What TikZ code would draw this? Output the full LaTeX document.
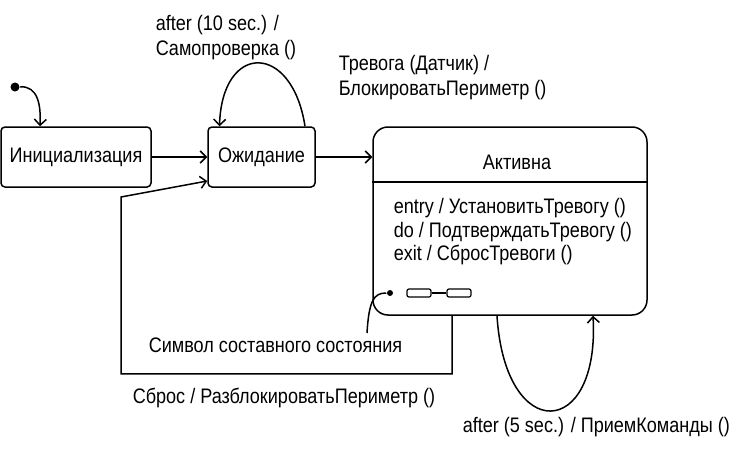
\documentclass[tikz,border=0pt]{standalone}
\usepackage{fontspec}
\setmainfont{Liberation Sans}[FakeStretch=0.86]
\usetikzlibrary{arrows.meta, positioning, calc}

\begin{document}
\begin{tikzpicture}[
  x=1pt, y=-1pt, line width=1.5pt,
  font=\fontsize{21}{25}\selectfont,
  state/.style={draw, rounded corners=4pt, minimum height=60pt, inner sep=0pt},
  flow/.style={-{Straight Barb[length=6pt, width=12pt]}},
  lbl/.style={inner sep=0pt, align=left, anchor=west},
  dot/.style={circle, fill, inner sep=0pt, minimum size=7pt},
  cmp/.style={draw, rounded corners=2pt, line width=1.2pt, inner sep=0pt,
              minimum width=24pt, minimum height=8pt}
]
  \useasboundingbox (0,0) rectangle (756,455);

  % states
  \node[dot, minimum size=9pt] (init) at (15,87) {};
  \node[state, minimum width=150pt] (ini) at (76,157) {Инициализация};
  \node[state, minimum width=107pt] (wait) at (261.5,157) {Ожидание};
  \node[state, rounded corners=15pt, minimum width=274pt,
        minimum height=188pt] (actv) at (510,221) {};
  \node (actvname) at (517,162) {Активна};
  \draw (actv.west |- 0,182) -- (actv.east |- 0,182);
  \node[lbl, anchor=north west, font=\fontsize{21}{23.5}\selectfont] (acts) at (393,198)
        {entry / УстановитьТревогу ()\\do / ПодтверждатьТревогу ()\\exit / СбросТревоги ()};

  % composite state symbol
  \node[dot, minimum size=6pt] (hist) at (390,293) {};
  \node[cmp] (cs1) at (419,293) {};
  \node[cmp] (cs2) at (459,293) {};
  \draw[line width=1.2pt] (cs1) -- (cs2);

  % transitions
  \draw[flow] (init) .. controls (38,86) and (41,105) .. ([xshift=-36pt]ini.north);
  \draw[flow] (ini) -- (wait);
  \draw[flow] (wait) -- (actv.west |- wait);
  \draw[flow] ([xshift=43.5pt]wait.north) .. controls (292,42) and (222,42)
        .. ([xshift=-42pt]wait.north);
  \draw[flow] ([xshift=-13pt]actv.south) .. controls (505,445) and (600,440)
        .. ([xshift=83pt]actv.south);
  \draw[flow] ([xshift=-58pt]actv.south) -- ++(0,58) -| (121,197)
        -- ([yshift=-24pt]wait.west);

  \node[lbl] (l10) at (155,37.5) {after (10 sec.) /\\Самопроверка ()};
  \node[lbl] (lalarm) at (338,78) {Тревога (Датчик) /\\БлокироватьПериметр ()};
  \node[lbl] (lreset) at (132,398) {Сброс / РазблокироватьПериметр ()};
  \node[lbl] (l5) at (462,427) {after (5 sec.) / ПриемКоманды ()};

  % note on the composite symbol
  \node[lbl] (note) at (148,345) {Символ составного состояния};
  \coordinate (nt) at (367,333);
  \draw (nt) .. controls (369,300) and (374,293) .. (hist);
\end{tikzpicture}
\end{document}
